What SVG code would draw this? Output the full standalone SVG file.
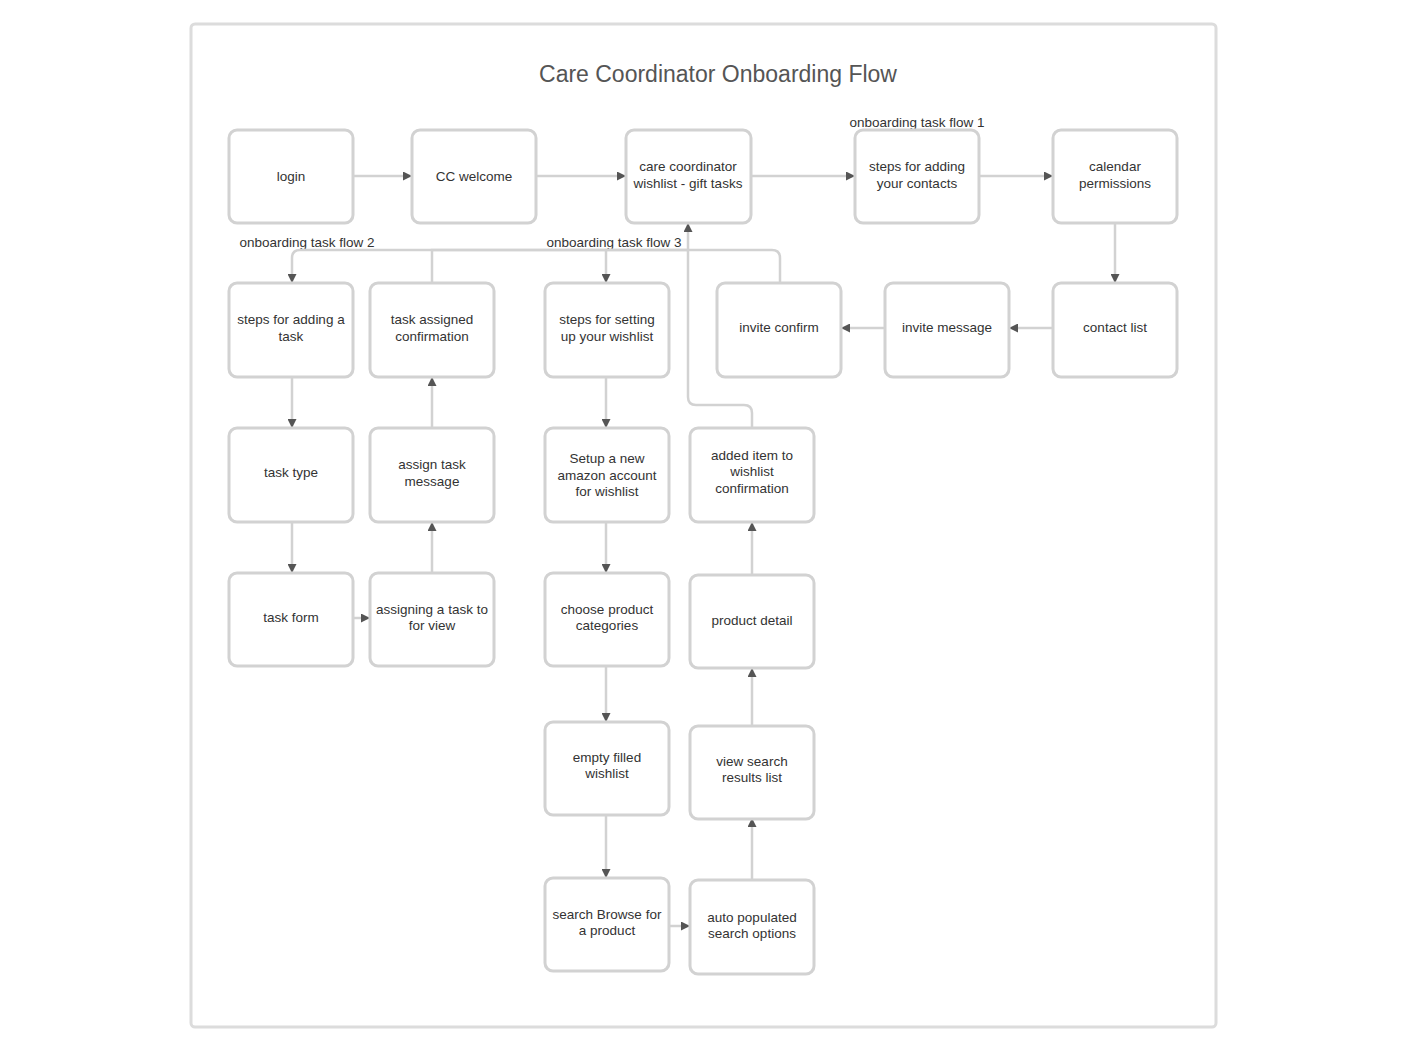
<svg xmlns="http://www.w3.org/2000/svg" width="1407" height="1052" viewBox="0 0 1407 1052">
<defs>
<marker id="arr" markerWidth="9" markerHeight="9" refX="8" refY="4.5" orient="auto" markerUnits="userSpaceOnUse">
<path d="M0,0 L9,4.5 L0,9 z" fill="#555"/>
</marker>
<style>
.node rect{fill:#fff;stroke:#d2d2d2;stroke-width:3}
.node text{font-family:"Liberation Sans",Arial,sans-serif;font-size:13.5px;fill:#333;text-anchor:middle}
.lbl{font-family:"Liberation Sans",Arial,sans-serif;font-size:13.5px;fill:#333;text-anchor:middle}
#connectors path{fill:none;stroke:#d2d2d2;stroke-width:2.5}
.a{marker-end:url(#arr)}
</style>
</defs>
<rect x="0" y="0" width="1407" height="1052" fill="#fff"/>
<rect x="191" y="24" width="1025" height="1003" rx="4" fill="#fff" stroke="#dcdcdc" stroke-width="3"/>
<text x="718" y="82" font-family="'Liberation Sans',Arial,sans-serif" font-size="23" fill="#555" text-anchor="middle">Care Coordinator Onboarding Flow</text>
<text class="lbl" x="917" y="127">onboarding task flow 1</text>
<text class="lbl" x="307" y="247">onboarding task flow 2</text>
<text class="lbl" x="614" y="247">onboarding task flow 3</text>

<g id="connectors">
<path class="a" d="M353,176 H411"/>
<path class="a" d="M536,176 H625"/>
<path class="a" d="M751,176 H854"/>
<path class="a" d="M979,176 H1052"/>
<path class="a" d="M1115,223 V282"/>
<path class="a" d="M1053,328 H1010"/>
<path class="a" d="M885,328 H842"/>
<path class="a" d="M780,283 V258 Q780,250 772,250 H688 V224"/>
<path d="M432,283 V250 H688"/>
<path class="a" d="M688,250 H300 Q292,250 292,258 V282"/>
<path class="a" d="M606,250 V282"/>
<path d="M752,428 V413 Q752,405 744,405 H696 Q688,405 688,397 V250"/>
<path class="a" d="M292,377 V427"/>
<path class="a" d="M292,522 V572"/>
<path class="a" d="M353,618 H369"/>
<path class="a" d="M432,573 V523"/>
<path class="a" d="M432,428 V378"/>
<path class="a" d="M606,377 V427"/>
<path class="a" d="M606,522 V572"/>
<path class="a" d="M606,666 V721"/>
<path class="a" d="M606,815 V877"/>
<path class="a" d="M669,926 H689"/>
<path class="a" d="M752,880 V819"/>
<path class="a" d="M752,726 V669"/>
<path class="a" d="M752,575 V523"/>
</g>

<g id="n-login" class="node"><rect x="229" y="130" width="124" height="93" rx="8"/><text x="291" y="181">login</text></g>
<g id="n-ccwelcome" class="node"><rect x="412" y="130" width="124" height="93" rx="8"/><text x="474" y="181">CC welcome</text></g>
<g id="n-cc" class="node"><rect x="626" y="130" width="125" height="93" rx="8"/><text x="688" y="171">care coordinator</text><text x="688" y="188">wishlist - gift tasks</text></g>
<g id="n-contacts" class="node"><rect x="855" y="130" width="124" height="93" rx="8"/><text x="917" y="171">steps for adding</text><text x="917" y="188">your contacts</text></g>
<g id="n-calendar" class="node"><rect x="1053" y="130" width="124" height="93" rx="8"/><text x="1115" y="171">calendar</text><text x="1115" y="188">permissions</text></g>

<g id="n-addtask" class="node"><rect x="229" y="283" width="124" height="94" rx="8"/><text x="291" y="324">steps for adding a</text><text x="291" y="341">task</text></g>
<g id="n-taskconf" class="node"><rect x="370" y="283" width="124" height="94" rx="8"/><text x="432" y="324">task assigned</text><text x="432" y="341">confirmation</text></g>
<g id="n-wishlist" class="node"><rect x="545" y="283" width="124" height="94" rx="8"/><text x="607" y="324">steps for setting</text><text x="607" y="341">up your wishlist</text></g>
<g id="n-inviteconfirm" class="node"><rect x="717" y="283" width="124" height="94" rx="8"/><text x="779" y="332">invite confirm</text></g>
<g id="n-invitemsg" class="node"><rect x="885" y="283" width="124" height="94" rx="8"/><text x="947" y="332">invite message</text></g>
<g id="n-contactlist" class="node"><rect x="1053" y="283" width="124" height="94" rx="8"/><text x="1115" y="332">contact list</text></g>

<g id="n-tasktype" class="node"><rect x="229" y="428" width="124" height="94" rx="8"/><text x="291" y="477">task type</text></g>
<g id="n-assignmsg" class="node"><rect x="370" y="428" width="124" height="94" rx="8"/><text x="432" y="469">assign task</text><text x="432" y="486">message</text></g>
<g id="n-amazon" class="node"><rect x="545" y="428" width="124" height="94" rx="8"/><text x="607" y="463">Setup a new</text><text x="607" y="480">amazon account</text><text x="607" y="496">for wishlist</text></g>
<g id="n-added" class="node"><rect x="690" y="428" width="124" height="94" rx="8"/><text x="752" y="460">added item to</text><text x="752" y="476">wishlist</text><text x="752" y="493">confirmation</text></g>

<g id="n-taskform" class="node"><rect x="229" y="573" width="124" height="93" rx="8"/><text x="291" y="622">task form</text></g>
<g id="n-assigning" class="node"><rect x="370" y="573" width="124" height="93" rx="8"/><text x="432" y="614">assigning a task to</text><text x="432" y="630">for view</text></g>
<g id="n-categories" class="node"><rect x="545" y="573" width="124" height="93" rx="8"/><text x="607" y="614">choose product</text><text x="607" y="630">categories</text></g>
<g id="n-detail" class="node"><rect x="690" y="575" width="124" height="93" rx="8"/><text x="752" y="625">product detail</text></g>

<g id="n-empty" class="node"><rect x="545" y="722" width="124" height="93" rx="8"/><text x="607" y="762">empty filled</text><text x="607" y="778">wishlist</text></g>
<g id="n-results" class="node"><rect x="690" y="726" width="124" height="93" rx="8"/><text x="752" y="766">view search</text><text x="752" y="782">results list</text></g>

<g id="n-search" class="node"><rect x="545" y="878" width="124" height="93" rx="8"/><text x="607" y="919">search Browse for</text><text x="607" y="935">a product</text></g>
<g id="n-auto" class="node"><rect x="690" y="880" width="124" height="94" rx="8"/><text x="752" y="922">auto populated</text><text x="752" y="938">search options</text></g>
</svg>
